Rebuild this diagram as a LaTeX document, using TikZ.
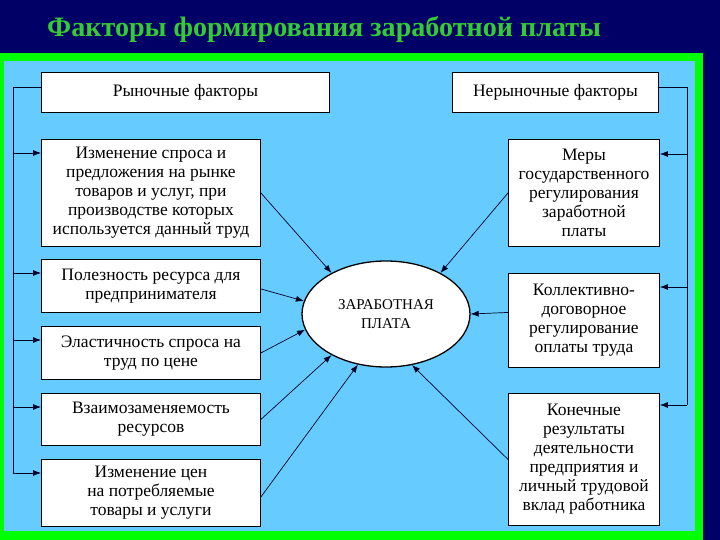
\documentclass[tikz,border=0pt]{standalone}
\usepackage{fontspec}
\setmainfont{Liberation Serif}
\usetikzlibrary{shapes.geometric,arrows.meta}
\definecolor{navy}{RGB}{0,0,102}
\definecolor{panelblue}{RGB}{102,204,255}
\definecolor{bordergreen}{RGB}{0,255,0}
\definecolor{titlegreen}{RGB}{51,204,51}
\tikzset{
  fbox/.style={draw=black, line width=0.9pt, fill=white, align=center, inner sep=0pt,
    font=\fontsize{17.5}{19}\selectfont, anchor=north west},
  arr/.style={-{Latex[length=8pt,width=6pt]}, line width=0.7pt, draw=black!85!blue},
  bus/.style={line width=0.7pt, draw=black!85!blue},
}
\begin{document}
\begin{tikzpicture}[x=1pt,y=-1pt]
\useasboundingbox (0,0) rectangle (720,540);
\fill[navy] (0,0) rectangle (720,540);
\node[anchor=west, text=titlegreen, font=\fontsize{28.1}{30}\selectfont\bfseries, inner sep=0pt] (title) at (47,29) {Факторы формирования заработной платы};
\fill[bordergreen] (0,53) rectangle (703,540);
\fill[panelblue] (4,61) rectangle (695,531);
% boxes
\node[fbox, minimum width=288, minimum height=40] (r) at (41,72) {Рыночные факторы};
\node[fbox, minimum width=206, minimum height=40] (n) at (452,72) {Нерыночные факторы};
\node[fbox, minimum width=219, minimum height=107] (b1) at (41,139) {Изменение спроса и\\предложения на рынке\\товаров и услуг, при\\производстве которых\\используется данный труд};
\node[fbox, minimum width=219, minimum height=53] (b2) at (41,259) {Полезность ресурса для\\предпринимателя};
\node[fbox, minimum width=219, minimum height=53] (b3) at (41,326) {Эластичность спроса на\\труд по цене};
\node[fbox, minimum width=219, minimum height=52] (b4) at (41,393) {Взаимозаменяемость\\ресурсов};
\node[fbox, minimum width=219, minimum height=67] (b5) at (41,459) {Изменение цен\\на потребляемые\\товары и услуги};
\node[fbox, minimum width=151, minimum height=107] (m1) at (508,139) {Меры\\государственного\\регулирования\\заработной\\платы};
\node[fbox, minimum width=151, minimum height=94] (m2) at (508,273) {Коллективно-\\договорное\\регулирование\\оплаты труда};
\node[fbox, minimum width=151, minimum height=132] (m3) at (508,393) {Конечные\\результаты\\деятельности\\предприятия и\\личный трудовой\\вклад работника};
\node[ellipse, draw=black, line width=1.3pt, fill=white, minimum width=168, minimum height=106, inner sep=0pt, align=center, font=\fontsize{15}{19}\selectfont] (e) at (386,314) {ЗАРАБОТНАЯ\\ПЛАТА};
% left bus
\coordinate (lb) at (13,0);
\coordinate (rb) at (687,0);
\coordinate (r0) at ([yshift=-15pt]r.north west);
\foreach \b in {b1,b2,b3,b4,b5} {\coordinate (\b in) at ([yshift=-14pt]\b.north west);}
\draw[bus] (r0) -- (r0 -| lb) -- (b5in -| lb);
\foreach \b in {b1,b2,b3,b4,b5} {\draw[arr] (\b in -| lb) -- (\b in);}
% right bus
\coordinate (n0) at ([yshift=-15pt]n.north east);
\coordinate (m1in) at ([yshift=-15pt]m1.north east);
\coordinate (m2in) at ([yshift=-14pt]m2.north east);
\coordinate (m3in) at ([yshift=-12pt]m3.north east);
\draw[bus] (n0) -- (n0 -| rb) -- (m3in -| rb);
\foreach \b in {m1,m2,m3} {\draw[arr] (\b in -| rb) -- (\b in);}
% arrows into ellipse
\draw[arr] (b1.east) -- (e.143);
\draw[arr] ([yshift=-3pt]b2.east) -- (e.171);
\draw[arr] (b3.east) -- (e.191);
\draw[arr] (b4.east) -- (e.217);
\draw[arr] ([yshift=-4pt]b5.east) -- (e.241);
\draw[arr] (m1.west) -- (e.37);
\draw[arr] ([yshift=8pt]m2.west) -- (e.0);
\draw[arr] (m3.west) -- (e.297);
\end{tikzpicture}
\end{document}
